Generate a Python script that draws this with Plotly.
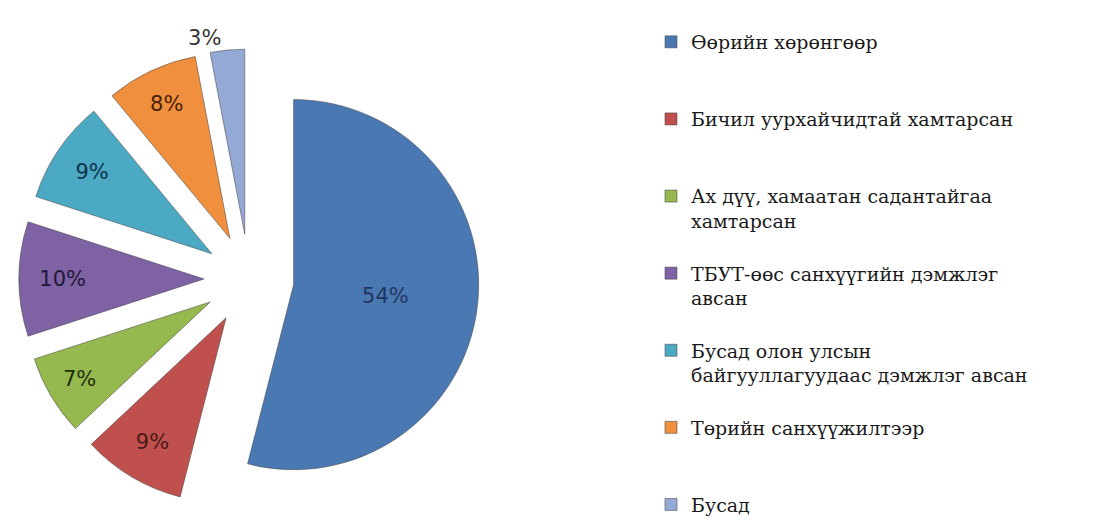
import plotly.graph_objects as go

categories = [
    "Өөрийн хөрөнгөөр",
    "Бичил уурхайчидтай хамтарсан",
    "Ах дүү, хамаатан садантайгаа<br>хамтарсан",
    "ТБУТ-өөс санхүүгийн дэмжлэг<br>авсан",
    "Бусад олон улсын<br>байгууллагуудаас дэмжлэг авсан",
    "Төрийн санхүүжилтээр",
    "Бусад",
]
values = [54, 9, 7, 10, 9, 8, 3]
colors = ["#4A78B2", "#C0504D", "#95B94F", "#7E62A4", "#4BA9C4", "#F0903E", "#95A9D6"]
label_colors = ["#1F3560", "#4A1A18", "#1E2E0C", "#1E1838", "#10334A", "#4A2208", "#333333"]

# pad legend entries with blank lines to reproduce the reference spacing
pad = [2, 2, 1, 1, 1, 2, 0]
legend_labels = [c + "<br>\u00a0" * p for c, p in zip(categories, pad)]

W, H = 1093, 520
fig = go.Figure(go.Pie(
    labels=legend_labels,
    values=values,
    sort=False,
    direction="clockwise",
    rotation=0,
    pull=[0.243] * len(values),
    marker=dict(colors=colors, line=dict(color="rgba(70,70,70,0.55)", width=1)),
    texttemplate="%{percent:.0%}",
    textposition=["inside"] * 6 + ["outside"],
    insidetextorientation="horizontal",
    textfont=dict(family="DejaVu Sans", size=21, color=label_colors),
    domain=dict(x=[11 / W, 471 / W], y=[19 / H, 479 / H]),
    showlegend=True,
))

fig.update_layout(
    width=W, height=H,
    margin=dict(l=0, r=0, t=0, b=0, autoexpand=False),
    paper_bgcolor="white",
    plot_bgcolor="white",
    legend=dict(
        x=643 / W, y=1 - 15 / H, xanchor="left", yanchor="top",
        valign="top",
        font=dict(family="DejaVu Serif", size=19, color="#1a1a1a"),
        traceorder="normal",
        itemwidth=30,
    ),
)

fig.write_html("out.html")
